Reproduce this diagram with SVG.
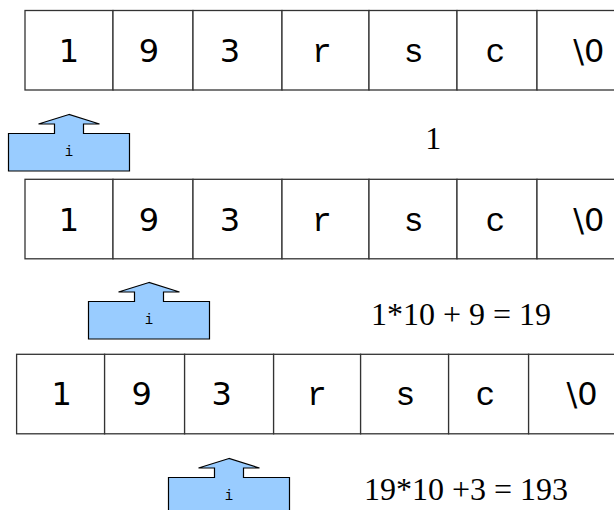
<svg xmlns="http://www.w3.org/2000/svg" xmlns:xlink="http://www.w3.org/1999/xlink" width="614" height="510" viewBox="0 0 614 510">
<style>
.cell{fill:#fff;stroke:#333;stroke-width:1.3}
.dg{font-family:"DejaVu Sans",sans-serif;font-size:32px;text-anchor:middle;fill:#000}
.lt{font-family:"Liberation Mono",monospace;font-size:33px;text-anchor:middle;fill:#000}
.ptr{fill:#99ccff;stroke:#000;stroke-width:1.2;stroke-linejoin:miter}
.idx{font-family:"Liberation Mono",monospace;font-size:14px;text-anchor:middle;fill:#000}
.calc{font-family:"Liberation Serif",serif;font-size:32px;fill:#000}
</style>
<defs>
<path id="ptrShape" d="M69,114.5 L38.5,124 L54.5,124 L54.5,133.5 L8.5,133.5 L8.5,171 L129.5,171 L129.5,133.5 L83.5,133.5 L83.5,124 L99.5,124 Z"/>
</defs>
<g id="array1">
<rect class="cell" x="25" y="10.5" width="88" height="79.5"/>
<rect class="cell" x="113" y="10.5" width="80" height="79.5"/>
<rect class="cell" x="193" y="10.5" width="89" height="79.5"/>
<rect class="cell" x="282" y="10.5" width="87" height="79.5"/>
<rect class="cell" x="369" y="10.5" width="88" height="79.5"/>
<rect class="cell" x="457" y="10.5" width="80" height="79.5"/>
<rect class="cell" x="537" y="10.5" width="88" height="79.5"/>
<text class="dg" x="69" y="62">1</text>
<text class="dg" x="149" y="62">9</text>
<text class="dg" x="230" y="62">3</text>
<text class="lt" x="322" y="62">r</text>
<text class="lt" x="413.7" y="62">s</text>
<text class="lt" x="495.3" y="62">c</text>
<text class="dg" x="588.7" y="62">\0</text>
</g>
<g id="array2">
<rect class="cell" x="25" y="179.3" width="88" height="79.5"/>
<rect class="cell" x="113" y="179.3" width="80" height="79.5"/>
<rect class="cell" x="193" y="179.3" width="89" height="79.5"/>
<rect class="cell" x="282" y="179.3" width="87" height="79.5"/>
<rect class="cell" x="369" y="179.3" width="88" height="79.5"/>
<rect class="cell" x="457" y="179.3" width="80" height="79.5"/>
<rect class="cell" x="537" y="179.3" width="88" height="79.5"/>
<text class="dg" x="69" y="231">1</text>
<text class="dg" x="149" y="231">9</text>
<text class="dg" x="230" y="231">3</text>
<text class="lt" x="322" y="231">r</text>
<text class="lt" x="413.7" y="231">s</text>
<text class="lt" x="495.3" y="231">c</text>
<text class="dg" x="588.7" y="231">\0</text>
</g>
<g id="array3">
<rect class="cell" x="16.6" y="354.3" width="88" height="79.5"/>
<rect class="cell" x="104.6" y="354.3" width="80" height="79.5"/>
<rect class="cell" x="184.6" y="354.3" width="89" height="79.5"/>
<rect class="cell" x="273.6" y="354.3" width="87" height="79.5"/>
<rect class="cell" x="360.6" y="354.3" width="88" height="79.5"/>
<rect class="cell" x="448.6" y="354.3" width="80" height="79.5"/>
<rect class="cell" x="528.6" y="354.3" width="88" height="79.5"/>
<text class="dg" x="61.7" y="405">1</text>
<text class="dg" x="141.7" y="405">9</text>
<text class="dg" x="221.7" y="405">3</text>
<text class="lt" x="317" y="405">r</text>
<text class="lt" x="405.3" y="405">s</text>
<text class="lt" x="485.3" y="405">c</text>
<text class="dg" x="582" y="405">\0</text>
</g>
<g id="pointer1">
<use xlink:href="#ptrShape" href="#ptrShape" class="ptr"/>
<text class="idx" x="69" y="155.7">i</text>
</g>
<g id="pointer2">
<use xlink:href="#ptrShape" href="#ptrShape" class="ptr" transform="translate(80,168)"/>
<text class="idx" x="149" y="323.7">i</text>
</g>
<g id="pointer3">
<use xlink:href="#ptrShape" href="#ptrShape" class="ptr" transform="translate(160,344)"/>
<text class="idx" x="229" y="499.7">i</text>
</g>
<g id="calc1"><text class="calc" x="433.3" y="149.3" text-anchor="middle">1</text></g>
<g id="calc2"><text class="calc" x="371" y="325">1*10 + 9 = 19</text></g>
<g id="calc3"><text class="calc" x="364" y="500">19*10 +3 = 193</text></g>
<g id="connectors"></g>
</svg>
